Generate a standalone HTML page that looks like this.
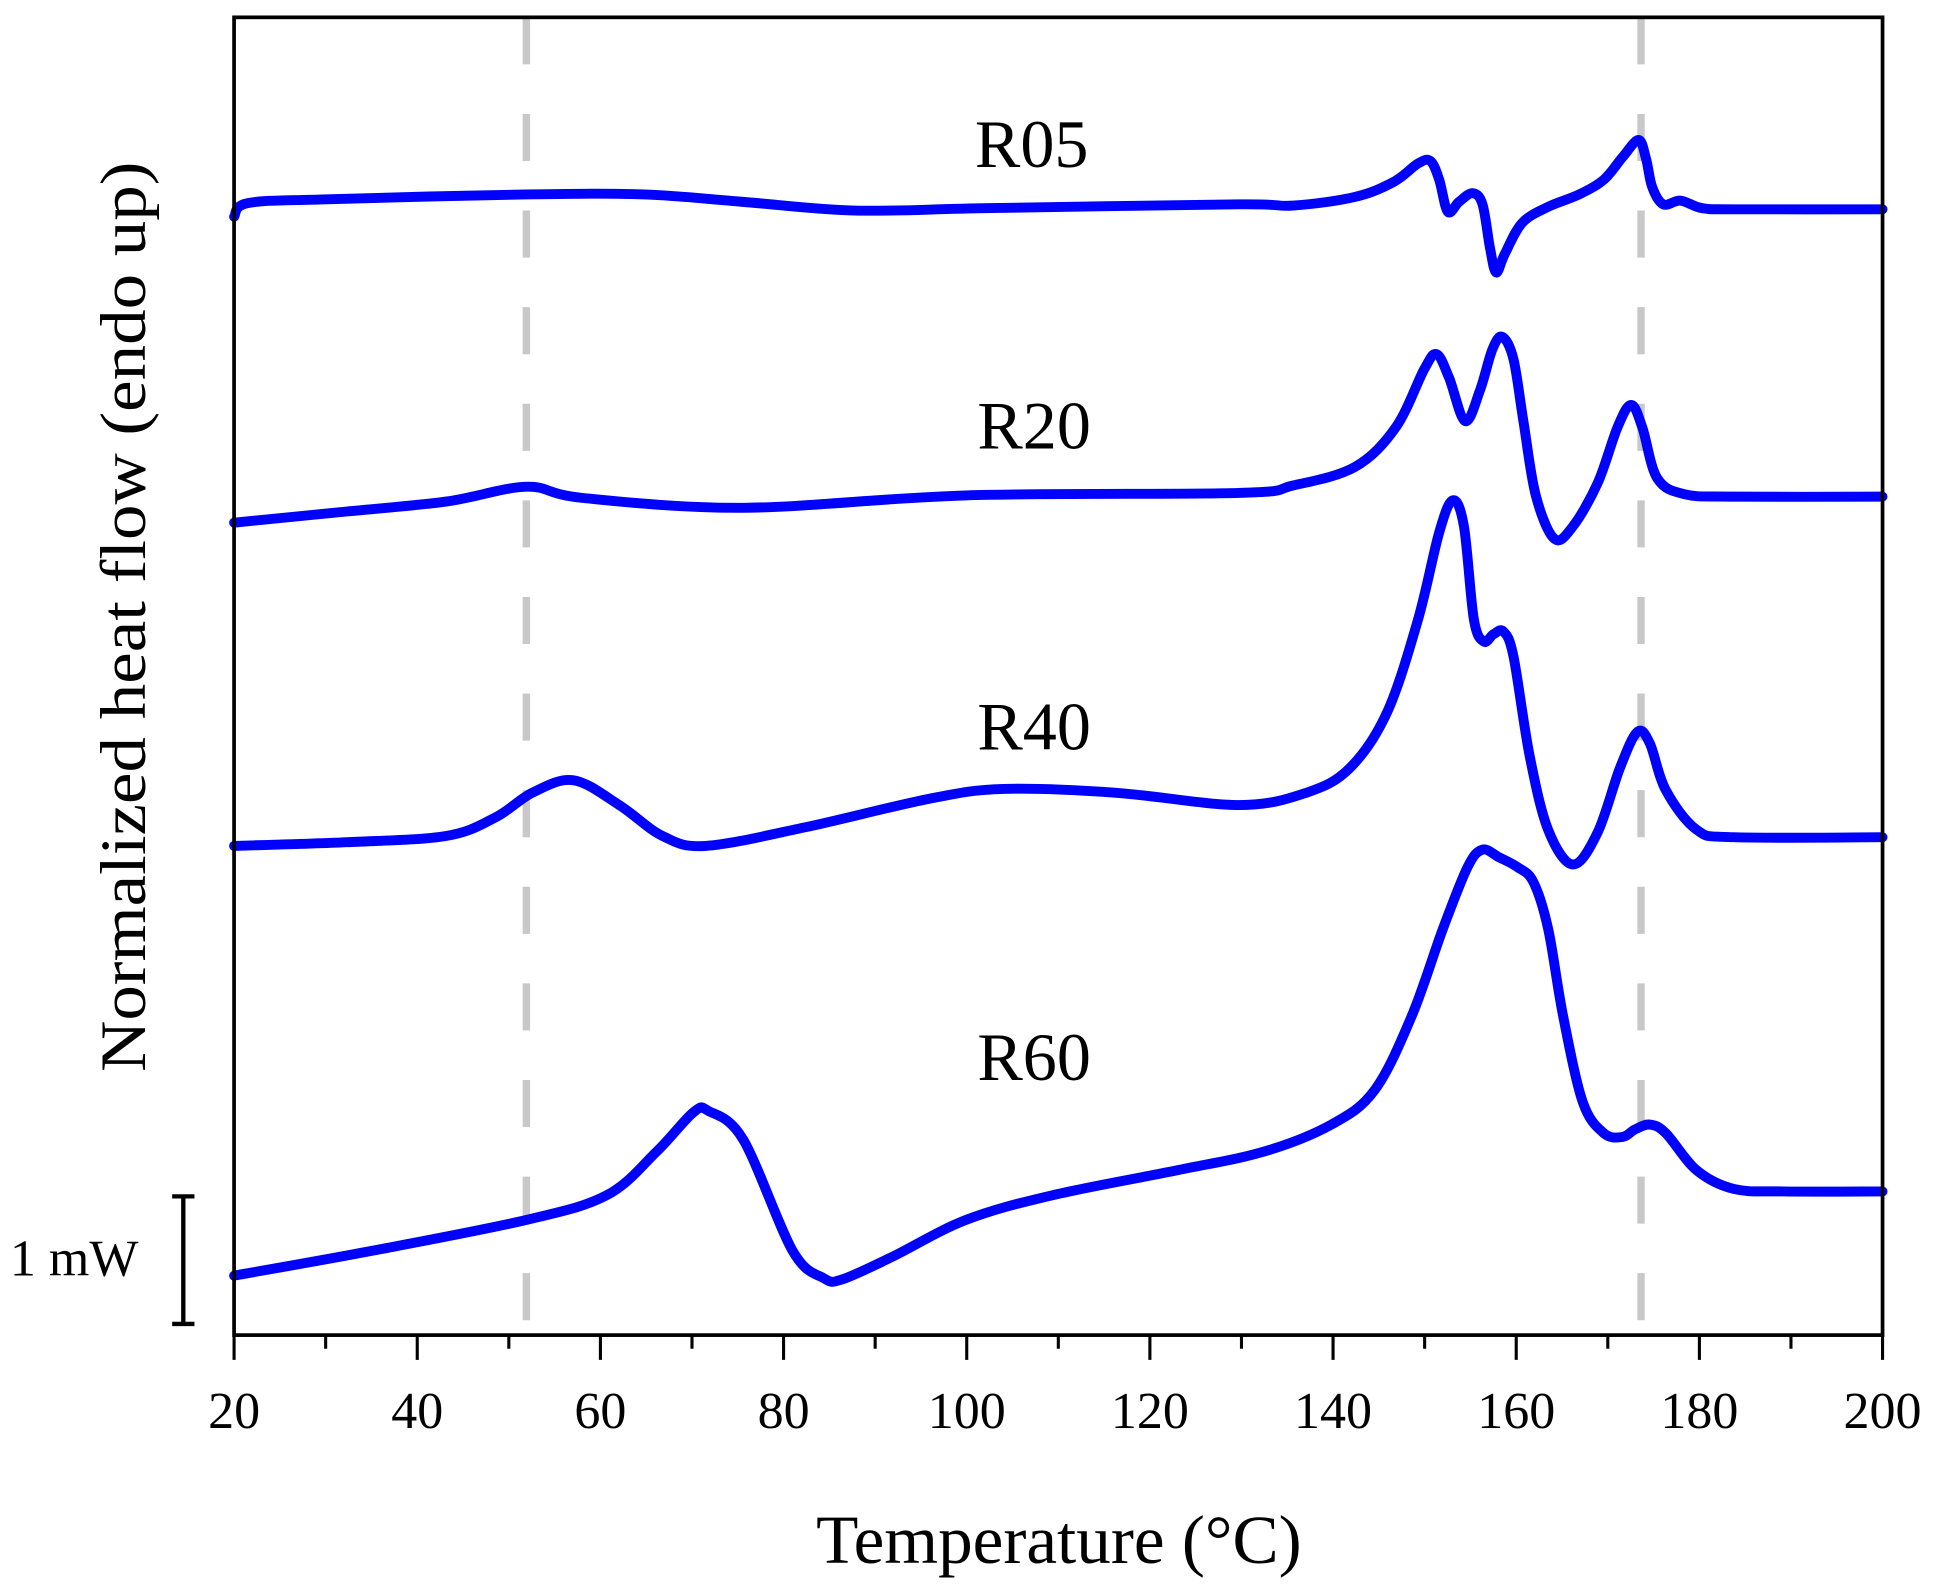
<!DOCTYPE html>
<html><head><meta charset="utf-8"><style>
html,body{margin:0;padding:0;background:#fff;}
svg{display:block;}
text{font-family:"Liberation Serif",serif;fill:#000;}
</style></head><body>
<svg id="s" width="1942" height="1589" viewBox="0 0 1568 1283" preserveAspectRatio="none" xmlns="http://www.w3.org/2000/svg">
<rect width="1568" height="1283" fill="#fff"/>
<g stroke="#c8c8c8" stroke-width="6" stroke-dasharray="38 40">
<line x1="425" y1="14" x2="425" y2="1078"/>
<line x1="1325" y1="14" x2="1325" y2="1078"/>
</g>
<g id="curves" fill="none" stroke="#0000ff" stroke-width="8" stroke-linejoin="round" stroke-linecap="round"></g>
<rect x="189" y="14" width="1331" height="1064" fill="none" stroke="#000" stroke-width="3"/>
<g id="ticks" stroke="#000" stroke-width="2.5"></g>
<g id="tl" font-size="42" text-anchor="middle"></g>
<text x="855" y="1262" font-size="56" text-anchor="middle" textLength="392" lengthAdjust="spacingAndGlyphs">Temperature (°C)</text>
<text transform="translate(117,498) rotate(-90)" font-size="52" text-anchor="middle" textLength="735" lengthAdjust="spacingAndGlyphs">Normalized heat flow (endo up)</text>
<g font-size="55" text-anchor="middle">
<text x="833" y="135">R05</text>
<text x="835" y="362">R20</text>
<text x="835" y="605">R40</text>
<text x="835" y="872">R60</text>
</g>
<g stroke="#000" stroke-width="3.5">
<line x1="148" y1="965" x2="148" y2="1070"/>
<line x1="139" y1="966" x2="157" y2="966"/>
<line x1="139" y1="1069" x2="157" y2="1069"/>
</g>
<text x="8" y="1030" font-size="42">1 mW</text>
</svg>
<script>
var ns="http://www.w3.org/2000/svg";
function smooth(p){var d="M"+p[0][0]+","+p[0][1];for(var i=0;i<p.length-1;i++){var p0=p[i-1]||p[i],p1=p[i],p2=p[i+1],p3=p[i+2]||p2;var c1x=p1[0]+(p2[0]-p0[0])/6,c1y=p1[1]+(p2[1]-p0[1])/6,c2x=p2[0]-(p3[0]-p1[0])/6,c2y=p2[1]-(p3[1]-p1[1])/6;d+=" C"+c1x+","+c1y+" "+c2x+","+c2y+" "+p2[0]+","+p2[1];}return d;}
var series=[
[[189,175],[200,164],[260,161],[425,157],[520,157],[600,163],[690,170],[800,168],[1000,165],[1044,166],[1094,159],[1125,147],[1145,132],[1155,130],[1162,145],[1169,171],[1178,163],[1189,156],[1197,165],[1203,200],[1208,220],[1215,205],[1229,180],[1250,167],[1275,157],[1295,145],[1310,127],[1323,113],[1329,128],[1334,151],[1343,165],[1357,162],[1374,168],[1400,169],[1520,169]],
[[189,422],[280,413],[360,405],[425,393],[470,402],[600,410],[780,400],[1000,398],[1044,392],[1094,377],[1127,345],[1150,298],[1160,286],[1170,305],[1183,340],[1195,315],[1205,282],[1213,272],[1222,290],[1230,340],[1240,400],[1255,435],[1270,425],[1290,390],[1306,345],[1317,327],[1326,345],[1338,386],[1360,399],[1400,401],[1520,401]],
[[189,683],[280,680],[360,675],[400,660],[430,640],[463,630],[500,650],[535,675],[570,683],[650,668],[750,645],[810,637],[900,640],[1000,650],[1055,640],[1090,620],[1120,575],[1145,500],[1162,430],[1173,404],[1182,425],[1190,500],[1198,518],[1206,512],[1214,510],[1222,530],[1235,610],[1250,670],[1270,698],[1290,672],[1308,620],[1322,591],[1332,600],[1345,638],[1370,670],[1400,676],[1520,676]],
[[189,1030],[300,1010],[425,985],[490,965],[530,930],[560,898],[572,897],[600,920],[640,1010],[665,1032],[680,1033],[720,1015],[780,985],[850,965],[950,945],[1020,930],[1075,908],[1110,880],[1140,820],[1165,750],[1185,700],[1197,686],[1210,692],[1225,700],[1238,712],[1250,750],[1262,820],[1278,890],[1295,915],[1310,918],[1320,912],[1332,908],[1345,915],[1370,945],[1400,960],[1440,962],[1520,962]]];
var g=document.getElementById("curves");
series.forEach(function(p){var e=document.createElementNS(ns,"path");e.setAttribute("d",smooth(p));g.appendChild(e);});
var t=document.getElementById("ticks"),tl=document.getElementById("tl");
for(var T=20;T<=200;T+=10){var x=189+(T-20)*1331/180;var maj=(T%20==0);var l=document.createElementNS(ns,"line");l.setAttribute("x1",x);l.setAttribute("x2",x);l.setAttribute("y1",1078);l.setAttribute("y2",1078+(maj?20:11));t.appendChild(l);
if(maj){var tx=document.createElementNS(ns,"text");tx.setAttribute("x",x);tx.setAttribute("y",1153);tx.textContent=T;tl.appendChild(tx);}}
</script>
</body></html>
